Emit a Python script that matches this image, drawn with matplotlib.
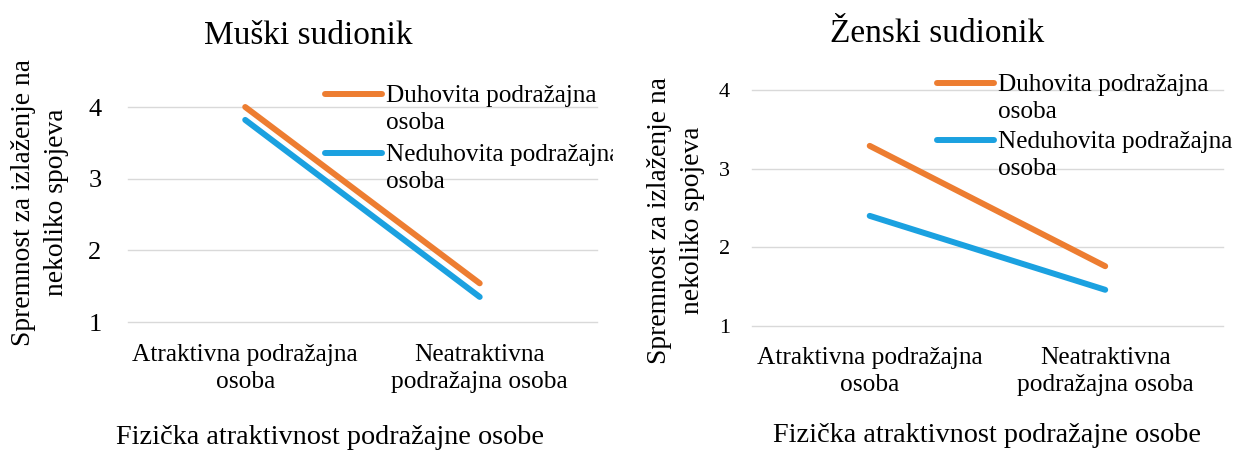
import matplotlib
matplotlib.use('Agg')
import numpy as np
from matplotlib import pyplot as plt
from matplotlib.transforms import Bbox
from matplotlib.legend_handler import HandlerLine2D

plt.rcParams['font.family'] = ['Liberation Serif', 'DejaVu Serif']

categories = ['Atraktivna podražajna\nosoba', 'Neatraktivna\npodražajna osoba']
series_names = ['Duhovita podražajna\nosoba', 'Neduhovita podražajna\nosoba']

muski_duhovita = [4.0, 1.54]
muski_neduhovita = [3.82, 1.35]
zenski_duhovita = [3.29, 1.76]
zenski_neduhovita = [2.40, 1.46]

y_ticks = [1, 2, 3, 4]
orange = '#ED7D31'
blue = '#1BA1E0'
grid_col = '#D9D9D9'


class FirstLineHandler(HandlerLine2D):
	# put the legend line next to the first line of a two-line label (like Excel)
	def __init__(self, shift, **kw):
		super().__init__(**kw)
		self.shift = shift

	def create_artists(self, legend, orig_handle, xdescent, ydescent, width, height, fontsize, trans):
		arts = super().create_artists(legend, orig_handle, xdescent, ydescent, width, height, fontsize, trans)
		for a in arts:
			a.set_ydata(np.asarray(a.get_ydata()) + self.shift)
		return arts


fig = plt.figure(figsize=(12.46, 4.5), dpi=100)


def draw_panel(rect, title, duh, neduh, o):
	ax = fig.add_axes(rect)
	x = [0, 1]
	l1, = ax.plot(x, duh, color=orange, lw=4.3, solid_capstyle='round', label=series_names[0], clip_on=False, zorder=3)
	l2, = ax.plot(x, neduh, color=blue, lw=4.3, solid_capstyle='round', label=series_names[1], clip_on=False, zorder=3)
	ax.set_xlim(-0.5, 1.5)
	ax.set_ylim(1, 4)
	ax.set_yticks(y_ticks)
	ax.set_xticks(x)
	ax.set_xticklabels(categories, fontsize=18.3, linespacing=1.3)
	ax.tick_params(axis='y', labelsize=o['tick_fs'], length=0, pad=o['ypad'])
	ax.tick_params(axis='x', length=0, pad=o['xpad'])
	ax.grid(axis='y', color=grid_col, lw=1.0)
	for gl in ax.get_ygridlines():
		gl.set_clip_on(False)
	ax.set_axisbelow(True)
	for s in ax.spines.values():
		s.set_visible(False)
	ax.set_title(title, fontsize=24, x=o['title_x'], y=o['title_y'], pad=0, va='center')
	ax.set_xlabel('Fizička atraktivnost podražajne osobe', fontsize=20.3)
	ax.xaxis.label.set_va('center')
	ax.xaxis.set_label_coords(o['xl_x'], o['xl_y'])
	ax.set_ylabel('Spremnost za izlaženje na\nnekoliko spojeva', fontsize=19.8, linespacing=1.4)
	ax.yaxis.label.set_va('center')
	ax.yaxis.set_label_coords(o['yl_x'], o['yl_y'])
	hm = {l1: FirstLineHandler(11), l2: FirstLineHandler(11)}
	leg = ax.legend(loc='upper left', bbox_to_anchor=o['leg'], bbox_transform=fig.transFigure,
		frameon=False, fontsize=18.2, handlelength=2.25, handletextpad=0.16,
		labelspacing=o['lsp'], borderpad=0, borderaxespad=0, handler_map=hm)
	for line in leg.get_lines():
		line.set_linewidth(4.3)
	for t in leg.get_texts():
		t.set_linespacing(1.3)
	return ax, leg


ax1, leg1 = draw_panel([0.1027, 0.2844, 0.3764, 0.4778], 'Muški sudionik', muski_duhovita, muski_neduhovita,
	dict(tick_fs=19, ypad=19, xpad=15.5, title_x=0.384, title_y=1.33, xl_x=0.431, xl_y=-0.535,
		yl_x=-0.188, yl_y=0.558, leg=(0.2608, 0.812), lsp=0.4))
ax2, leg2 = draw_panel([0.6035, 0.2756, 0.378, 0.5244], 'Ženski sudionik', zenski_duhovita, zenski_neduhovita,
	dict(tick_fs=16, ypad=16, xpad=15, title_x=0.393, title_y=1.238, xl_x=0.5, xl_y=-0.466,
		yl_x=-0.161, yl_y=0.449, leg=(0.752, 0.836), lsp=0.33))

# the left chart is cut at its right edge in the source image
clip = Bbox.from_extents(0, 0, 613, 450)
for t in leg1.get_texts():
	t.set_clip_box(clip)
	t.set_clip_on(True)

fig.savefig('out.png', dpi=100)
